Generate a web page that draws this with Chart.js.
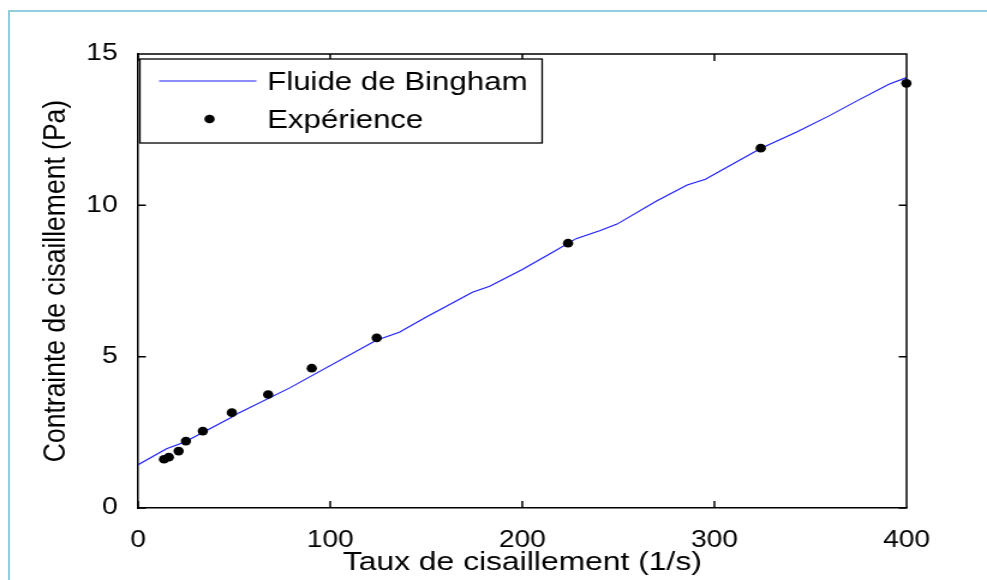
<!DOCTYPE html>
<html>
<head>
<meta charset="utf-8">
<script src="https://cdn.jsdelivr.net/npm/chart.js@4.4.1/dist/chart.umd.min.js"></script>
<style>
  html, body { margin: 0; padding: 0; background: #fff; overflow: hidden; }
  #wrap { position: relative; width: 987px; height: 580px; }
  #c { position: absolute; left: 0; top: 0; }
  #frame { position: absolute; left: 8px; top: 10px; width: 1000px; height: 600px;
           border-left: 2px solid #93cddd; border-top: 2px solid #93cddd; pointer-events: none; }
</style>
</head>
<body>
<div id="wrap">
  <canvas id="c" width="822" height="580" style="width:987px;height:580px"></canvas>
  <div id="frame"></div>
</div>
<script>
// Bingham model curve (shear rate 1/s, shear stress Pa)
const rateModel   = [0, 14.8, 24.3, 48.7, 52.7, 78.7, 124, 136, 150, 160, 174, 183, 200, 216, 228, 240.6, 249.3, 270.1, 285.8, 295.3, 324, 343.1, 360.4, 374.4, 390.8, 400];
const stressModel = [1.43, 1.96, 2.18, 3.0, 3.15, 3.96, 5.54, 5.81, 6.31, 6.65, 7.13, 7.33, 7.88, 8.46, 8.9, 9.17, 9.38, 10.15, 10.67, 10.86, 11.88, 12.43, 12.98, 13.46, 14.0, 14.22];

// Measured points
const rateExp   = [13.5, 16.0, 21.1, 24.9, 33.7, 48.8, 67.7, 90.4, 124.2, 223.8, 324.1, 399.9];
const stressExp = [1.61, 1.68, 1.88, 2.21, 2.54, 3.15, 3.75, 4.62, 5.62, 8.75, 11.89, 14.03];

const xTicks = [0, 100, 200, 300, 400];
const yTicks = [0, 5, 10, 15];
const seriesNames = ['Fluide de Bingham', 'Expérience'];
const xTitle = 'Taux de cisaillement (1/s)';
const yTitle = 'Contrainte de cisaillement (Pa)';

const FONT = '"Liberation Sans", Arial, sans-serif';
Chart.defaults.font.family = FONT;
Chart.defaults.color = '#000';

// Inward tick marks on all four sides plus the top/right box edges
const boxTicks = {
  id: 'boxTicks',
  afterDraw(chart) {
    const { ctx, chartArea: a, scales: { x, y } } = chart;
    ctx.save();
    ctx.strokeStyle = '#000';
    ctx.lineWidth = 1.5;
    ctx.beginPath();
    ctx.moveTo(a.left, a.top); ctx.lineTo(a.right, a.top); ctx.lineTo(a.right, a.bottom);
    x.ticks.forEach(t => {
      const p = x.getPixelForValue(t.value);
      ctx.moveTo(p, a.bottom); ctx.lineTo(p, a.bottom - 7);
      ctx.moveTo(p, a.top); ctx.lineTo(p, a.top + 7);
    });
    y.ticks.forEach(t => {
      const p = y.getPixelForValue(t.value);
      ctx.moveTo(a.left, p); ctx.lineTo(a.left + 6.5, p);
      ctx.moveTo(a.right, p); ctx.lineTo(a.right - 6.5, p);
    });
    ctx.stroke();
    ctx.restore();
  }
};

// Boxed legend in the upper-left corner of the plot
const boxLegend = {
  id: 'boxLegend',
  afterDraw(chart) {
    const { ctx, chartArea: a } = chart;
    const ds = chart.data.datasets;
    const l = a.left + 1.5, t = a.top + 5, w = 335, h = 84;
    ctx.save();
    ctx.fillStyle = '#fff';
    ctx.fillRect(l, t, w, h);
    ctx.strokeStyle = '#000';
    ctx.lineWidth = 1.3;
    ctx.strokeRect(l, t, w, h);

    // line sample
    ctx.strokeStyle = ds[0].borderColor;
    ctx.lineWidth = 1;
    ctx.beginPath();
    ctx.moveTo(l + 16, t + 22); ctx.lineTo(l + 97, t + 22);
    ctx.stroke();

    // marker sample
    ctx.fillStyle = ds[1].backgroundColor;
    ctx.beginPath();
    ctx.arc(l + 58, t + 60, ds[1].pointRadius, 0, Math.PI * 2);
    ctx.fill();

    ctx.fillStyle = '#000';
    ctx.font = '26px ' + FONT;
    ctx.textBaseline = 'middle';
    ctx.textAlign = 'left';
    ctx.fillText(ds[0].label, l + 106, t + 24);
    ctx.fillText(ds[1].label, l + 106, t + 62);
    ctx.restore();
  }
};

new Chart(document.getElementById('c'), {
  type: 'scatter',
  data: {
    datasets: [
      {
        label: seriesNames[0],
        data: rateModel.map((v, i) => ({ x: v, y: stressModel[i] })),
        showLine: true,
        borderColor: '#1a1aff',
        borderWidth: 1.1,
        pointRadius: 0,
        tension: 0,
        order: 2
      },
      {
        label: seriesNames[1],
        data: rateExp.map((v, i) => ({ x: v, y: stressExp[i] })),
        showLine: false,
        backgroundColor: '#000',
        borderWidth: 0,
        pointRadius: 4.3,
        clip: false,
        order: 1
      }
    ]
  },
  options: {
    responsive: false,
    animation: false,
    devicePixelRatio: 1,
    layout: { padding: { top: 54, right: 67, left: 0, bottom: 0 } },
    plugins: { legend: { display: false }, tooltip: { enabled: false } },
    scales: {
      x: {
        type: 'linear',
        min: 0, max: 400,
        afterBuildTicks: s => { s.ticks = xTicks.map(v => ({ value: v })); },
        afterFit: s => { s.height = 72; },
        grid: { display: false },
        border: { display: true, color: '#000', width: 1.5 },
        ticks: { font: { size: 23.5 }, color: '#000', padding: 10, maxRotation: 0 },
        title: { display: true, text: xTitle, font: { size: 26.5 }, color: '#000', padding: { top: 0, bottom: 1 } }
      },
      y: {
        type: 'linear',
        min: 0, max: 15,
        afterBuildTicks: s => { s.ticks = yTicks.map(v => ({ value: v })); },
        afterFit: s => { s.width = 115; },
        grid: { display: false },
        border: { display: true, color: '#000', width: 1.5 },
        ticks: { font: { size: 23.5 }, color: '#000', padding: 9 },
        title: { display: true, text: yTitle, font: { size: 26.5 }, color: '#000', padding: { top: 30.5, bottom: 0 } }
      }
    }
  },
  plugins: [boxTicks, boxLegend]
});
</script>
</body>
</html>
